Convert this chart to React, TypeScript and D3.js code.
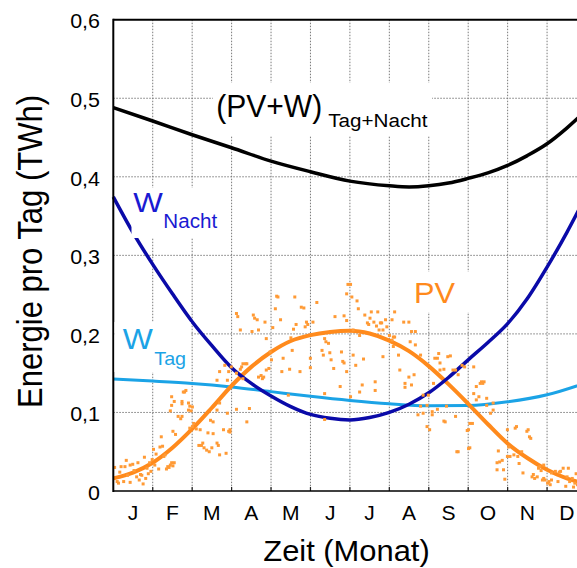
import React from 'react';
import * as d3 from 'd3';

const W = 577;
const H = 568;

const monthLabels = ['J', 'F', 'M', 'A', 'M', 'J', 'J', 'A', 'S', 'O', 'N', 'D'];
const yTicks = [0, 0.1, 0.2, 0.3, 0.4, 0.5, 0.6];
const yTickLabels = ['0', '0,1', '0,2', '0,3', '0,4', '0,5', '0,6'];

// (PV+W) Tag+Nacht  (x = month 0..12)
const sumMonths = [0, 1, 2, 3, 4, 5, 6, 7, 7.5, 8, 8.5, 9, 9.5, 10, 10.5, 11, 11.5, 12];
const sumValues = [0.488, 0.471, 0.4535, 0.437, 0.42, 0.4065, 0.3945, 0.3885, 0.387, 0.3885, 0.392, 0.398, 0.405, 0.4145, 0.427, 0.442, 0.462, 0.485];

// W Nacht
const nightMonths = [0, 0.5, 1, 1.5, 2, 2.5, 3, 3.5, 4, 4.5, 5, 5.5, 6, 6.5, 7, 7.5, 8, 8.5, 9, 9.5, 10, 10.5, 11, 11.5, 12];
const nightValues = [0.3745, 0.329, 0.2885, 0.251, 0.2155, 0.185, 0.157, 0.137, 0.121, 0.1075, 0.0975, 0.0925, 0.0905, 0.0935, 0.1, 0.1105, 0.125, 0.1445, 0.167, 0.189, 0.213, 0.245, 0.285, 0.329, 0.377];

// W Tag
const dayMonths = [0, 1, 2, 3, 4, 5, 6, 7, 8, 9, 10, 11, 12];
const dayValues = [0.1425, 0.14, 0.137, 0.1325, 0.1265, 0.1205, 0.1152, 0.111, 0.1085, 0.1088, 0.1135, 0.1225, 0.138];

// PV fit
const pvMonths = [0, 0.5, 1, 1.5, 2, 2.5, 3, 3.5, 4, 4.5, 5, 5.5, 6, 6.5, 7, 7.5, 8, 8.5, 9, 9.5, 10, 10.5, 11, 11.5, 12];
const pvValues = [0.016, 0.0235, 0.036, 0.055, 0.079, 0.106, 0.134, 0.158, 0.177, 0.191, 0.1985, 0.2025, 0.204, 0.2005, 0.1915, 0.178, 0.159, 0.136, 0.111, 0.085, 0.0605, 0.042, 0.027, 0.016, 0.009];

// PV daily values [day of year, TWh]
const pvDots: [number, number][] = [
  [1, .030], [3, .012], [4, .010], [5, .024], [6, .031], [8, .012], [9, .031], [10, .039], [11, .020], [13, .033], [13, .011], [15, .034], [16, .026], [18, .018], [19, .036], [20, .014], [21, .021], [22, .020], [23, .009], [24, .043], [25, .016], [26, .029], [27, .022], [28, .036], [29, .025], [30, .040],
  [31, .053], [32, .033], [33, .047], [35, .028], [36, .056], [37, .069], [38, .057], [39, .044], [40, .046], [41, .028], [42, .031], [43, .030], [44, .033], [45, .036], [46, .032], [47, .036], [45, .120], [44, .102], [45, .109], [47, .114], [46, .076], [48, .072], [50, .095], [52, .092], [53, .114], [53, .111], [55, .126], [54, .126], [56, .128], [58, .103], [58, .112], [59, .108], [60, .102], [61, .107], [62, .086], [59, .080], [61, .082], [53, .095],
  [64, .079], [66, .058], [67, .078], [68, .058], [69, .061], [70, .055], [72, .052], [73, .074], [74, .050], [75, .090], [76, .055], [77, .073], [77, .088], [80, .103], [80, .061], [80, .141], [81, .058], [82, .046], [82, .112], [82, .152], [85, .078], [86, .160], [87, .048], [88, .141], [88, .099], [89, .152], [89, .076], [90, .075], [90, .078],
  [91, .158], [95, .104], [95, .150], [95, .226], [96, .222], [98, .205], [98, .155], [99, .158], [100, .162], [100, .143], [102, .162], [103, .162], [103, .088], [105, .105], [107, .203], [108, .224], [109, .220], [111, .218], [112, .205], [112, .145], [114, .147], [115, .143], [116, .145], [117, .215], [118, .194], [118, .154], [120, .156], [121, .177],
  [122, .167], [123, .208], [125, .232], [126, .248], [127, .247], [129, .218], [130, .152], [131, .169], [135, .122], [136, .155], [137, .195], [138, .179], [139, .206], [140, .247], [141, .212], [144, .152], [145, .234], [147, .233], [148, .209], [149, .215], [150, .212], [152, .157], [152, .169],
  [154, .215], [157, .240], [161, .179], [162, .173], [163, .194], [163, .124], [163, .091], [164, .190], [166, .188], [167, .176], [168, .167], [170, .156], [171, .222], [175, .133], [176, .177], [177, .165], [178, .223], [178, .163], [180, .217], [180, .152], [180, .251], [181, .263], [183, .263], [183, .120],
  [184, .247], [185, .205], [185, .173], [187, .160], [188, .242], [189, .232], [190, .198], [190, .126], [192, .135], [193, .168], [194, .224], [196, .214], [197, .212], [198, .220], [199, .228], [201, .215], [202, .139], [202, .128], [203, .210], [204, .228], [205, .205], [206, .214], [207, .214], [208, .205], [208, .171], [210, .218], [211, .209], [213, .198],
  [215, .218], [215, .192], [216, .196], [216, .184], [217, .228], [217, .196], [220, .173], [221, .154], [224, .215], [225, .137], [225, .132], [228, .215], [228, .145], [229, .190], [230, .203], [230, .135], [232, .148], [233, .203], [233, .186], [235, .097], [237, .173], [237, .108], [239, .122], [239, .099], [242, .109], [242, .082], [243, .122],
  [244, .078], [246, .097], [246, .101], [247, .137], [248, .169], [250, .104], [250, .169], [251, .175], [252, .163], [252, .154], [255, .155], [255, .089], [256, .088], [257, .108], [258, .171], [260, .172], [262, .154], [264, .095], [264, .154], [265, .050], [266, .148], [266, .050], [269, .160], [271, .158], [273, .077], [274, .054], [274, .078],
  [275, .086], [275, .055], [277, .086], [278, .124], [278, .158], [280, .116], [280, .133], [282, .120], [283, .137], [284, .139], [285, .137], [286, .139], [288, .118], [288, .109], [291, .099], [293, .103], [293, .112], [296, .036], [296, .027], [297, .051], [298, .037], [300, .039], [301, .027], [302, .015], [304, .078], [304, .044],
  [305, .056], [306, .044], [309, .046], [310, .080], [311, .082], [312, .044], [313, .035], [315, .050], [316, .023], [319, .076], [320, .078], [321, .069], [322, .067], [323, .018], [324, .021], [325, .016], [327, .018], [328, .029], [329, .031], [330, .026], [331, .014], [332, .033], [332, .016], [333, .014],
  [335, .010], [336, .012], [337, .008], [338, .014], [338, .023], [341, .025], [343, .012], [344, .024], [345, .025], [347, .029], [349, .006], [350, .018], [351, .029], [352, .012], [354, .016], [355, .005], [356, .010], [357, .022], [358, .008], [360, .028], [362, .012], [364, .018],
];

const FONT = 'Arial, "Liberation Sans", Helvetica, sans-serif';

const x = d3.scaleLinear().domain([0, 12]).range([113.3, 586.5]);
const y = d3.scaleLinear().domain([0, 0.6]).range([491, 19.7]);

const line = d3
  .line<[number, number]>()
  .x((d) => x(d[0]))
  .y((d) => y(d[1]))
  .curve(d3.curveMonotoneX);

const zip = (a: number[], b: number[]) => a.map((v, i) => [v, b[i]] as [number, number]);

const C_BLACK = '#000000';
const C_NIGHT = '#0a0aa8';
const C_NIGHT_TXT = '#1a1ad2';
const C_DAY = '#1ba3e6';
const C_PV = '#ff8a1c';
const C_DOT = '#ff9a35';

function SText(props: { x: number; y: number; sx?: number; size: number; fill?: string; anchor?: string; children: React.ReactNode }) {
  const { x: tx, y: ty, sx = 1, size, fill = '#000', anchor = 'start', children } = props;
  return (
    <text
      transform={`translate(${tx},${ty}) scale(${sx},1)`}
      fontFamily={FONT}
      fontSize={size}
      fill={fill}
      textAnchor={anchor as any}
    >
      {children}
    </text>
  );
}

export default function App() {
  const left = x(0);
  const right = x(12);
  const top = y(0.6);
  const bottom = y(0);
  const monthBounds = d3.range(1, 12);

  return (
    <svg
      width={W}
      height={H}
      viewBox={`0 0 ${W} ${H}`}
      style={{ position: 'absolute', left: 0, top: 0, background: '#fff', display: 'block' }}
    >
      <rect x={0} y={0} width={W} height={H} fill="#fff" />
      {/* grid */}
      <g stroke="#7a7a7a" strokeWidth={1} strokeDasharray="1.5,1.5" fill="none">
        {yTicks.slice(1, -1).map((t) => (
          <line key={'h' + t} x1={left} x2={right} y1={y(t)} y2={y(t)} />
        ))}
        {monthBounds.map((m) => (
          <line key={'v' + m} x1={x(m)} x2={x(m)} y1={top} y2={bottom} />
        ))}
      </g>
      {/* bottom ticks */}
      <g stroke="#222" strokeWidth={1.2}>
        {monthBounds.map((m) => (
          <line key={'t' + m} x1={x(m)} x2={x(m)} y1={bottom} y2={bottom - 4} />
        ))}
      </g>

      {/* curves */}
      <path d={line(zip(dayMonths, dayValues)) || ''} fill="none" stroke={C_DAY} strokeWidth={3} />
      <path d={line(zip(pvMonths, pvValues)) || ''} fill="none" stroke={C_PV} strokeWidth={4} />
      <path d={line(zip(nightMonths, nightValues)) || ''} fill="none" stroke={C_NIGHT} strokeWidth={3.5} />
      <path d={line(zip(sumMonths, sumValues)) || ''} fill="none" stroke={C_BLACK} strokeWidth={3.5} />

      {/* PV daily dots */}
      <g fill={C_DOT}>
        {pvDots.map((d, i) => (
          <rect key={i} x={x((d[0] / 365) * 12) - 1.5} y={y(d[1]) - 1.5} width={3} height={3} />
        ))}
      </g>

      {/* frame */}
      <line x1={left} x2={W + 10} y1={top} y2={top} stroke="#000" strokeWidth={2} />
      <line x1={left} x2={left} y1={top - 1} y2={bottom + 1} stroke="#000" strokeWidth={2} />
      <line x1={left} x2={W + 10} y1={bottom} y2={bottom} stroke="#000" strokeWidth={1.5} />

      {/* label backgrounds */}
      <g fill="#fff">
        <rect x={213} y={83} width={219} height={53} />
        <rect x={131.5} y={188} width={90} height={50} />
        <rect x={114.5} y={322} width={76} height={50} />
        <rect x={405} y={272} width={64} height={40} />
      </g>

      {/* in-plot labels */}
      <SText x={216.2} y={116.7} size={31} sx={0.97}>(PV+W)</SText>
      <SText x={328.3} y={126.7} size={18.6} sx={1.11}>Tag+Nacht</SText>
      <SText x={133.3} y={211.7} size={28} sx={1.12} fill={C_NIGHT_TXT}>W</SText>
      <SText x={163.3} y={228.3} size={20} sx={1.03} fill={C_NIGHT_TXT}>Nacht</SText>
      <SText x={122.7} y={349.3} size={29} sx={1.1} fill={C_DAY}>W</SText>
      <SText x={154.3} y={365} size={18.6} sx={1.06} fill={C_DAY}>Tag</SText>
      <SText x={414} y={302.7} size={29} sx={1.06} fill={C_PV}>PV</SText>

      {/* y tick labels */}
      {yTicks.map((t, i) => (
        <SText key={'yl' + t} x={100} y={y(t) + 8.7} size={19.5} sx={1.1} anchor="end">
          {yTickLabels[i]}
        </SText>
      ))}
      {/* month labels */}
      {monthLabels.map((m, i) => (
        <SText key={'ml' + i} x={x(i + 0.5)} y={520} size={19.5} sx={1.08} anchor="middle">
          {m}
        </SText>
      ))}

      {/* axis titles */}
      <SText x={346.5} y={561} size={30} sx={1.03} anchor="middle">Zeit (Monat)</SText>
      <text
        transform="translate(41.7,251.5) rotate(-90) scale(1,1.16)"
        fontFamily={FONT}
        fontSize={31}
        textAnchor="middle"
        fill="#000"
      >
        Energie pro Tag (TWh)
      </text>
    </svg>
  );
}
